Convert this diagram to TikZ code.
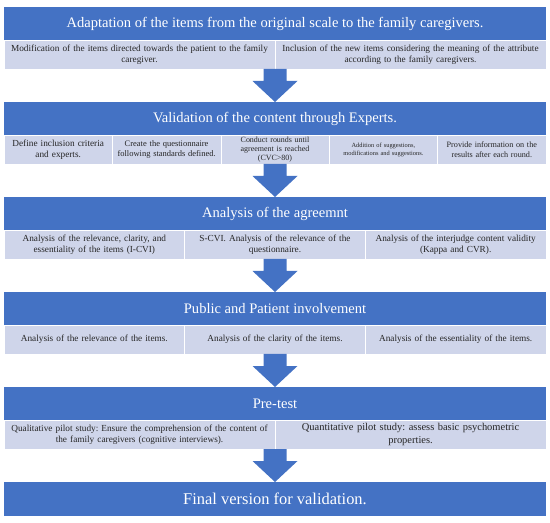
\documentclass[tikz,border=0pt]{standalone}
\usepackage{fontspec}
\setmainfont{Liberation Serif}
\usepackage{xcolor}
\usepackage{tikz}
\usetikzlibrary{positioning}
\frenchspacing

\definecolor{headblue}{HTML}{4472C4}
\definecolor{celllight}{HTML}{CFD5EA}
\definecolor{celltext}{HTML}{262626}

\begin{document}
\begin{tikzpicture}[
    x=1bp, y=1bp,
    node distance=0bp,
    head/.style={rectangle, fill=headblue, text=white, minimum width=542bp, minimum height=33bp, inner sep=0pt, outer sep=0pt, font=\fontsize{14.6}{17}\selectfont},
    cell/.style={rectangle, fill=celllight, draw=white, line width=0.6bp, minimum height=29bp, inner xsep=2bp, inner ysep=0pt, outer sep=0pt, align=center, text=celltext, font=\fontsize{9.3}{11.5}\selectfont},
    half/.style={cell, minimum width=271bp, text width=262bp},
    third/.style={cell, minimum width=180.67bp, text width=172bp},
    fifth/.style={cell, minimum width=108.4bp, text width=104bp},
    flow/.style={fill=headblue}
]
    \path[use as bounding box, fill=white] (0,0) rectangle (550,523);

    % Adaptation
    \node[head] (h1) at (275,499.5) {Adaptation of the items from the original scale to the family caregivers.};
    \node[half, below right=0bp of h1.south west] (c11) {Modification of the items directed towards the patient to the family\\ caregiver.};
    \node[half, right=0bp of c11] (c12) {Inclusion of the new items considering the meaning of the attribute\\ according to the family caregivers.};

    % Experts
    \node[head, below=33bp of c11.south east] (h2) {Validation of the content through Experts.};
    \node[fifth, below right=0bp of h2.south west] (c21) {Define inclusion criteria\\ and experts.};
    \node[fifth, right=0bp of c21, font=\fontsize{8.5}{10.5}\selectfont] (c22) {Create the questionnaire\\ following standards defined.};
    \node[fifth, right=0bp of c22, font=\fontsize{8}{9.4}\selectfont] (c23) {Conduct rounds until\\ agreement is reached\\ (CVC>80)};
    \node[fifth, right=0bp of c23, font=\fontsize{6.4}{8}\selectfont] (c24) {Addition of suggestions,\\ modifications and suggestions.};
    \node[fifth, right=0bp of c24, font=\fontsize{8.2}{10.5}\selectfont] (c25) {Provide information on the\\ results after each round.};

    % Agreement
    \node[head, below=33bp of c23.south] (h3) {Analysis of the agreemnt};
    \node[third, below right=0bp of h3.south west] (c31) {Analysis of the relevance, clarity, and\\ essentiality of the items (I-CVI)};
    \node[third, right=0bp of c31] (c32) {S-CVI. Analysis of the relevance of the\\ questionnaire.};
    \node[third, right=0bp of c32] (c33) {Analysis of the interjudge content validity\\ (Kappa and CVR).};

    % PPI
    \node[head, below=33bp of c32.south] (h4) {Public and Patient involvement};
    \node[third, below right=0bp of h4.south west] (c41) {Analysis of the relevance of the items.};
    \node[third, right=0bp of c41] (c42) {Analysis of the clarity of the items.};
    \node[third, right=0bp of c42] (c43) {Analysis of the essentiality of the items.};

    % Pre-test
    \node[head, below=33bp of c42.south] (h5) {Pre-test};
    \node[half, below right=0bp of h5.south west] (c51) {Qualitative pilot study: Ensure the comprehension of the content of\\ the family caregivers (cognitive interviews).};
    \node[half, right=0bp of c51, font=\fontsize{10.5}{12.5}\selectfont] (c52) {Quantitative pilot study: assess basic psychometric\\ properties.};

    % Final
    \node[head, below=33bp of c51.south east, minimum height=34bp, font=\fontsize{16.5}{19}\selectfont] (hf) {Final version for validation.};

    % Block arrows
    \foreach \from/\to in {c11.south east/h2, c23.south/h3, c32.south/h4, c42.south/h5, c51.south east/hf}
        \fill[flow] ([xshift=-11.5bp]\from) |- ([xshift=-22.5bp, yshift=21bp]\to.north) -- (\to.north) -- ([xshift=22.5bp, yshift=21bp]\to.north) -| ([xshift=11.5bp]\from) -- cycle;

\end{tikzpicture}
\end{document}
